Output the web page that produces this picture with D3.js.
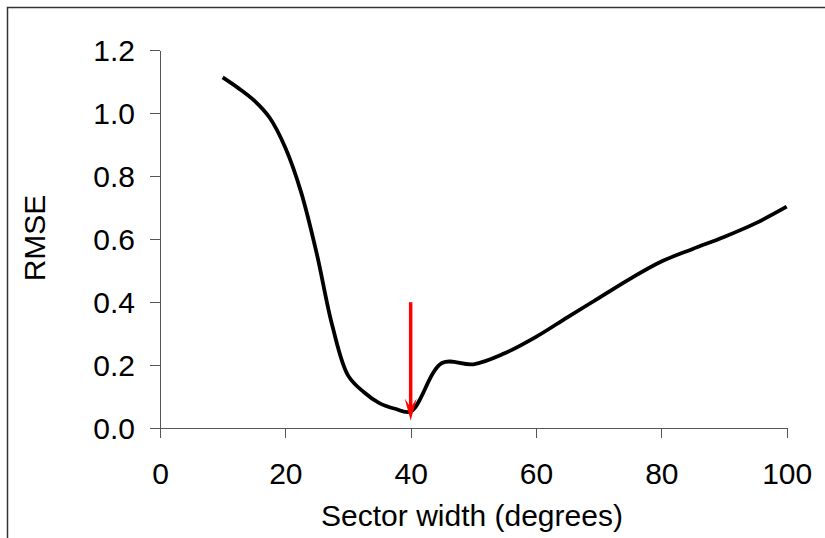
<!doctype html>
<html>
<head>
<title>RMSE vs sector width</title>
<script src="https://d3js.org/d3.v7.min.js"></script>
<style>
  body { margin: 0; background: #fff; }
  svg { display: block; font-family: "Liberation Sans", Arial, sans-serif; }
  .axis path, .axis line { stroke: #555; shape-rendering: crispEdges; }
  .axis text { font-size: 30px; fill: #000; }
</style>
</head>
<body>
<script>
// sector width (degrees) and RMSE
var widths = [10, 12.5, 15, 17.5, 20, 22.5, 25, 27.5, 30, 32.5, 35, 37.5, 40, 45, 50, 55, 60, 65, 70, 75, 80, 85, 90, 95, 100];
var rmse   = [1.113, 1.079, 1.04, 0.985, 0.89, 0.75, 0.555, 0.325, 0.168, 0.115, 0.08, 0.062, 0.053, 0.207, 0.203, 0.238, 0.29, 0.352, 0.413, 0.474, 0.529, 0.569, 0.607, 0.65, 0.703];
var xTicks = [0, 20, 40, 60, 80, 100];
var yTicks = [0, 0.2, 0.4, 0.6, 0.8, 1.0, 1.2];
// red arrow marking the minimum
var arrowX = 40, arrowFrom = 0.4, arrowTo = 0.025;

var W = 825, H = 538;
var svg = d3.select("body").append("svg").attr("width", W).attr("height", H);

svg.append("rect")
  .attr("x", 7.5).attr("y", 7.5).attr("width", W + 20).attr("height", H + 20)
  .attr("fill", "none").attr("stroke", "#333").attr("stroke-width", 1.5);

var x = d3.scaleLinear().domain([0, 100]).range([160, 786.7]);
var y = d3.scaleLinear().domain([0, 1.2]).range([428.3, 50]);

svg.append("g")
  .attr("class", "axis")
  .attr("transform", "translate(0," + y(0) + ")")
  .call(d3.axisBottom(x).tickValues(xTicks).tickSize(10).tickSizeOuter(0).tickPadding(24));

svg.append("g")
  .attr("class", "axis")
  .attr("transform", "translate(" + x(0) + ",0)")
  .call(d3.axisLeft(y).tickValues(yTicks).tickFormat(d3.format(".1f")).tickSize(10).tickSizeOuter(0).tickPadding(15))
  .call(function(g) { g.selectAll("text").attr("dy", "0.34em"); });

svg.selectAll(".axis").attr("font-family", null).attr("font-size", null);

var pts = widths.map(function(w, i) { return [w, rmse[i]]; });
var line = d3.line()
  .x(function(d) { return x(d[0]); })
  .y(function(d) { return y(d[1]); })
  .curve(d3.curveCatmullRom.alpha(0.5));

svg.append("path").datum(pts)
  .attr("d", line)
  .attr("fill", "none").attr("stroke", "#000").attr("stroke-width", 3.8)
  .attr("stroke-linejoin", "round");

// arrow
var ax = x(arrowX), ay0 = y(arrowFrom), ay1 = y(arrowTo);
svg.append("line")
  .attr("x1", ax).attr("x2", ax).attr("y1", ay0).attr("y2", ay1 - 12)
  .attr("stroke", "#ff0000").attr("stroke-width", 3.5);
svg.append("path")
  .attr("d", "M" + ax + "," + ay1 + "L" + (ax - 6) + "," + (ay1 - 22) + "L" + ax + "," + (ay1 - 13) + "L" + (ax + 6) + "," + (ay1 - 22) + "Z")
  .attr("fill", "#ff0000");

svg.append("text")
  .attr("x", 472).attr("y", 526)
  .attr("text-anchor", "middle").attr("font-size", 30)
  .text("Sector width (degrees)");

svg.append("text")
  .attr("transform", "translate(45,238) rotate(-90)")
  .attr("text-anchor", "middle").attr("font-size", 30)
  .text("RMSE");
</script>
</body>
</html>
